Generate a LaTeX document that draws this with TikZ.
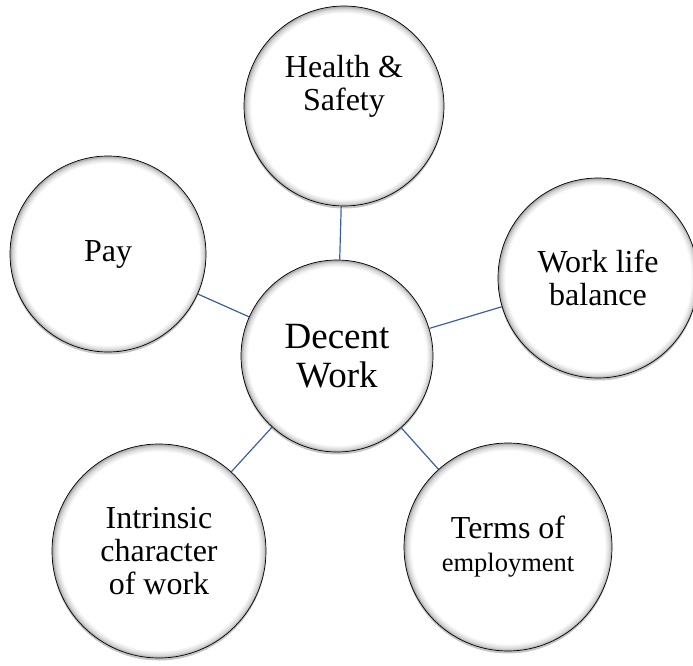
\documentclass[tikz,border=0pt]{standalone}
\usepackage{fontspec}
\setmainfont{Liberation Serif}
\usetikzlibrary{shadows}
\definecolor{linkblue}{RGB}{58,96,162}
\pgfdeclareradialshading{bevel}{\pgfpoint{0bp}{0bp}}{color(0bp)=(white); color(23.2bp)=(white); color(24.3bp)=(black!15); color(25bp)=(black!36); color(50bp)=(black!36)}

\begin{document}
\begin{tikzpicture}[x=1pt,y=-1pt,
    bubble/.style={circle, draw=black, line width=0.7pt, shading=bevel, align=center, inner sep=0pt,
      font=\fontsize{32}{33}\selectfont,
      drop shadow={shadow xshift=0pt, shadow yshift=-2.5pt, fill=black!45, opacity=.5}},
    link/.style={draw=linkblue, line width=1.2pt}]
  \useasboundingbox (0,0) rectangle (693,666);
  % hub
  \node[bubble, minimum size=192pt, font=\fontsize{37}{39}\selectfont] (Decent) at (337,356) {Decent\\Work};
  % outer circles
  \node[bubble, minimum size=200pt] (Health) at (344,106) {Health \&\\Safety\\[14pt]\mbox{}};
  \node[bubble, minimum size=196pt] (Pay) at (108,254) {Pay};
  \node[bubble, minimum size=200pt] (WLB) at (598,278) {Work life\\balance};
  \node[bubble, minimum size=214pt] (Intr) at (159,551) {Intrinsic\\character\\of work};
  \node[bubble, minimum size=208pt] (Terms) at (508,547) {Terms of\\{\fontsize{26.5}{30}\selectfont employment}};
  \draw[link] (Health) -- (Decent);
  \draw[link] (Pay) -- (Decent);
  \draw[link] (WLB) -- (Decent);
  \draw[link] (Intr) -- (Decent);
  \draw[link] (Terms) -- (Decent);
\end{tikzpicture}
\end{document}
